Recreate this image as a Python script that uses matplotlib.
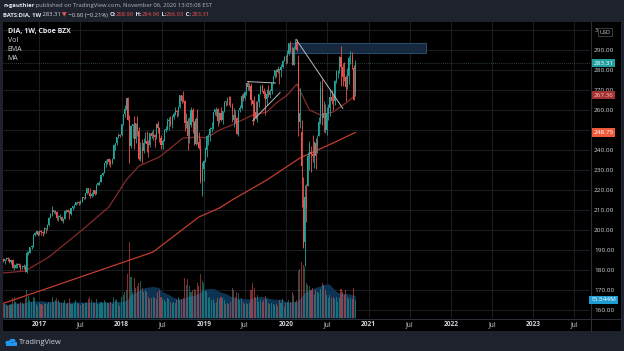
import matplotlib
matplotlib.use("Agg")
import matplotlib.pyplot as plt
import matplotlib.dates as mdates
import matplotlib.transforms as mtransforms
from matplotlib.patches import Rectangle, Circle
import numpy as np
import pandas as pd

plt.rcParams['font.family'] = ['Open Sans', 'DejaVu Sans']

W, H, DPI = 624, 351, 100

# ---------------- data (weekly DIA bars) ----------------
first_week = "2016-07-25"
opens = [185.7,184.3,185.4,185.8,185.5,183.9,184.9,180.9,181.2,182.6,183.1,182.4,181.4,181.5,181.6,178.9,188.5,188.7,191.5,191.7,197.6,198.4,199.3,
         197.9,199.6,198.9,198.3,200.9,200.7,202.7,206.2,208.2,210.0,209.0,209.1,206.0,206.6,206.6,204.5,205.5,209.4,210.1,209.0,208.0,210.8,212.1,212.7,213.8,213.9,213.5,214.1,216.4,215.8,218.3,220.9,218.6,216.8,218.1,219.9,218.0,222.7,223.5,224.1,227.7,228.7,233.3,234.3,235.4,234.2,233.6,235.6,242.3,243.3,246.5,247.5,
         247.6,253.0,258.0,260.7,266.2,255.2,241.9,252.2,253.1,245.4,253.4,249.5,235.3,241.0,239.3,243.6,244.6,243.1,242.6,248.3,247.2,247.5,246.4,253.2,250.9,245.8,242.7,244.6,250.2,250.6,254.5,254.6,253.1,256.7,257.9,259.6,259.2,261.5,267.4,264.6,264.5,253.4,254.4,246.9,252.7,259.9,254.1,242.9,255.4,243.9,241.0,224.5,
         230.6,234.3,240.0,247.1,247.4,250.6,251.1,258.8,260.3,260.3,254.5,258.5,255.0,259.3,264.2,264.1,265.6,265.4,261.9,254.9,257.6,255.9,248.2,259.8,260.9,267.2,266.0,269.2,273.3,271.5,271.9,264.9,262.9,258.9,256.3,264.0,268.0,272.2,269.4,268.2,265.7,268.2,267.7,269.6,273.5,276.8,280.1,278.8,280.5,280.2,281.4,284.5,
         286.5,286.3,288.2,293.5,289.9,282.6,291.0,294.0,284.7,254.1,249.0,215.0,194.0,216.4,222.0,237.2,239.0,237.8,237.2,243.3,242.0,247.0,253.8,271.1,256.1,258.7,250.2,258.3,260.8,266.7,264.7,264.3,274.3,279.3,279.3,286.5,281.3,276.7,276.6,271.7,276.8,285.9,286.1,281.0,268.90]
highs = [185.9,185.6,186.6,186.3,186.0,185.2,185.5,183.1,183.6,183.4,183.5,183.0,182.6,182.8,182.3,189.3,189.5,191.7,192.4,197.8,199.2,199.7,199.6,
         200.0,199.9,199.3,201.3,201.0,202.8,206.4,208.3,212.0,210.2,210.0,209.6,207.5,208.0,206.8,206.2,210.0,210.1,210.3,210.1,210.9,212.1,213.2,214.2,214.6,214.5,214.8,216.4,216.7,218.4,220.9,221.2,221.2,218.9,220.1,220.0,222.8,224.0,224.3,227.8,228.8,233.4,234.8,235.5,235.9,235.4,235.8,243.0,243.5,246.7,248.3,248.1,
         253.0,258.1,262.7,266.2,266.6,257.3,252.6,253.2,257.0,253.6,257.0,251.5,243.8,245.6,246.0,249.0,249.7,245.0,248.4,249.3,250.6,248.1,253.4,254.4,251.4,247.5,245.6,250.6,252.0,256.2,256.3,256.8,257.3,258.8,261.6,260.2,261.9,267.6,267.6,269.5,265.2,258.7,255.9,256.5,261.3,260.8,254.6,256.5,260.6,249.2,246.0,233.8,
         235.1,241.6,247.4,248.0,251.4,254.0,259.0,260.6,261.7,261.2,259.0,261.5,259.6,264.3,264.4,266.4,266.8,266.8,263.6,261.1,259.8,256.4,260.0,262.3,268.2,268.3,269.6,273.4,274.3,273.5,273.4,265.0,267.0,264.3,264.4,268.1,272.6,273.0,270.9,269.5,270.4,272.4,270.3,273.7,276.9,280.2,280.6,282.1,280.7,282.8,284.8,287.0,
         287.5,290.0,293.6,294.5,291.6,292.0,295.7,295.6,287.6,271.1,255.0,226.3,222.7,222.9,239.0,244.5,242.0,247.6,244.4,246.0,247.7,256.6,274.5,275.5,264.3,262.8,261.3,263.0,270.6,270.0,267.6,275.0,280.0,280.2,286.8,292.0,283.6,284.1,277.5,280.8,286.9,289.6,288.9,282.7,284.96]
lows = [183.8,183.2,184.9,184.7,183.4,183.2,180.8,179.9,180.8,180.8,181.7,179.9,180.4,180.6,178.8,178.7,187.5,188.5,190.3,191.6,196.9,198.1,196.9,
        197.3,197.7,197.2,198.0,198.5,199.8,202.2,205.9,207.2,208.3,207.8,204.8,204.6,205.5,204.4,203.3,205.5,208.6,208.8,205.5,207.7,209.9,211.0,212.3,213.1,212.4,212.8,213.9,215.3,215.7,218.0,218.4,216.2,216.4,217.0,217.6,218.0,222.5,222.3,224.0,227.2,228.5,231.7,232.9,232.6,231.7,233.2,235.4,240.1,242.6,246.0,246.6,
        246.8,252.5,256.6,260.1,254.9,233.4,240.8,245.9,240.6,243.5,247.0,234.9,234.4,233.6,238.3,243.3,238.9,236.7,241.5,245.8,245.2,241.3,245.6,248.6,244.0,240.5,240.6,244.4,248.9,249.8,249.9,251.8,250.9,255.3,257.7,256.6,257.2,261.0,263.6,263.8,249.6,250.9,240.1,243.4,251.4,248.6,242.7,242.7,242.8,240.5,223.4,217.1,
        224.7,233.8,236.7,242.7,244.6,248.8,250.5,257.3,257.1,252.2,253.6,254.7,253.0,259.0,261.8,262.7,262.5,261.7,253.9,251.3,253.7,247.8,246.9,259.1,260.3,264.6,265.0,267.7,270.1,269.7,262.4,252.6,254.7,255.7,253.9,261.5,267.8,269.1,265.8,257.4,262.6,266.4,266.2,268.1,273.0,275.9,276.4,278.7,272.8,276.6,281.0,284.3,
        282.8,283.5,287.4,289.1,282.6,282.6,290.6,289.5,246.8,251.0,211.5,190.9,182.2,203.8,222.0,229.9,228.8,234.2,231.1,230.6,238.3,246.9,253.2,252.5,249.0,248.6,247.7,254.9,257.1,262.9,259.8,262.6,273.6,275.8,278.5,272.2,272.0,274.5,264.6,270.6,273.0,283.0,280.5,264.9,266.93]
closes = [184.3,185.4,185.8,185.5,183.9,184.9,180.9,181.2,182.6,183.1,182.4,181.4,181.5,181.6,178.9,188.5,188.7,191.5,191.7,197.6,198.4,199.3,197.6,
          199.6,198.9,198.3,200.9,200.7,202.7,206.2,208.2,210.0,209.0,209.1,206.0,206.6,206.6,204.5,205.5,209.4,210.1,209.0,208.0,210.8,212.1,212.7,213.8,213.9,213.5,214.1,216.4,215.8,218.3,220.9,218.6,216.8,218.1,219.9,218.0,222.7,223.5,224.1,227.7,228.7,233.3,234.3,235.4,234.2,233.6,235.6,242.3,243.3,246.5,247.5,247.2,
          253.0,258.0,260.7,266.2,255.2,241.9,252.2,253.1,245.4,253.4,249.5,235.3,241.0,239.3,243.6,244.6,243.1,242.6,248.3,247.2,247.5,246.4,253.2,250.9,245.8,242.7,244.6,250.2,250.6,254.5,254.6,253.1,256.7,257.9,259.6,259.2,261.5,267.4,264.6,264.5,253.4,254.4,246.9,252.7,259.9,254.1,242.9,255.4,243.9,241.0,224.5,230.6,
          234.3,240.0,247.1,247.4,250.6,251.1,258.8,260.3,260.3,254.5,258.5,255.0,259.3,264.2,264.1,265.6,265.4,265.1,259.4,257.6,255.9,248.2,259.8,260.9,267.2,266.0,269.2,273.3,271.5,271.9,264.9,262.9,258.9,256.3,264.0,268.0,272.2,269.4,268.2,265.7,268.2,267.7,269.6,273.5,276.8,280.1,278.8,280.5,280.2,281.4,284.5,286.5,
          286.3,288.2,293.5,289.9,282.6,291.0,294.0,289.9,254.1,258.6,231.9,191.7,216.4,210.5,237.2,242.4,237.8,237.2,243.3,236.9,244.7,253.8,271.1,256.1,258.7,250.2,258.3,260.8,266.7,264.7,264.3,274.3,279.3,279.3,286.5,281.3,276.7,276.6,271.7,276.8,285.9,286.1,283.4,265.0,283.31]
volumes_m = [13,12,11,10,11,12,17,18,14,12,12,14,13,12,17,24,19,15,14,18,17,12,10,
             13,12,11,13,12,12,14,13,18,14,15,17,15,13,13,13,15,12,13,17,12,12,13,15,13,12,11,13,12,13,14,16,18,15,14,13,16,12,12,14,13,15,14,13,13,14,12,18,15,16,13,10,
             18,20,22,24,38,65,35,22,34,26,27,30,32,26,22,24,22,18,16,17,18,17,16,22,24,18,16,15,14,17,16,14,13,14,13,15,18,15,16,17,34,28,33,27,22,24,25,24,30,27,38,32,
             30,24,22,17,18,15,16,13,14,17,16,18,17,15,12,13,12,14,26,24,18,22,21,15,17,14,12,13,12,13,24,30,26,18,20,14,15,14,15,19,16,13,12,13,12,11,12,10,15,13,16,9,
             13,14,15,14,22,20,14,15,40,42,48,45,44,30,28,27,24,26,20,24,22,21,25,30,28,24,20,17,20,17,18,16,18,14,17,25,22,20,24,18,16,17,16,26,15.544]

ema_dates = ["2016-07-25","2016-10-31","2017-02-13","2017-07-10","2017-11-06","2018-01-22","2018-03-19","2018-06-18",
             "2018-10-01","2018-12-10","2019-01-14","2019-03-11","2019-05-06","2019-08-05","2019-10-07","2019-11-18",
             "2020-01-06","2020-02-17","2020-03-16","2020-04-13","2020-06-01","2020-07-27","2020-09-28","2020-11-02"]
ema_values = [178.5,179.5,186.5,200.0,211.5,225.0,232.0,236.5,
              246.0,246.5,246.0,250.0,252.5,257.5,259.0,263.5,
              267.5,273.0,266.5,260.0,257.5,259.0,264.0,267.36]
ma_dates = ["2016-07-25","2017-01-16","2018-05-21","2018-12-10","2019-03-11","2019-05-06","2019-10-07","2020-03-02","2020-07-27","2020-11-02"]
ma_values = [163.3,170.0,189.0,206.5,211.0,215.0,225.0,236.0,243.5,248.75]

price_ticks = [160,170,180,190,200,210,220,230,240,250,260,270,280,290]
hidden_price_labels = [250]   # covered by the MA value tag in the reference
time_ticks = ["2017-01-01","2017-07-01","2018-01-01","2018-07-01","2019-01-01","2019-07-01","2020-01-01",
              "2020-07-01","2021-01-01","2021-07-01","2022-01-01","2022-07-01","2023-01-01","2023-07-01"]
time_labels = ["2017","Jul","2018","Jul","2019","Jul","2020","Jul","2021","Jul","2022","Jul","2023","Jul"]

# drawings (date, price)
zone = (("2020-01-18", 288.65), ("2021-09-12", 293.35))
trend_down = (("2020-02-14", 295.3), ("2020-09-08", 260.8))
flat_line = (("2019-07-14", 274.2), ("2019-11-14", 273.5))
rise_line = (("2019-08-06", 254.7), ("2019-12-05", 268.7))

# ---------------- colours ----------------
OUTER = "#1e222d"
UP = "#26a69a"
DOWN = "#ef5350"
GRID = "#1a1c22"
TXT = "#d1d4dc"

def fx(px):
    return px / W

def fy(py):
    return 1 - py / H

fig = plt.figure(figsize=(W / DPI, H / DPI), dpi=DPI)
fig.patch.set_facecolor(OUTER)
fig.add_artist(Rectangle((fx(3), fy(331)), fx(621) - fx(3), fy(22) - fy(331),
                         transform=fig.transFigure, facecolor="black", edgecolor="none", zorder=0))

L, R, T, B = 3, 590, 22, 318
rect = [fx(L), fy(B), fx(R) - fx(L), fy(T) - fy(B)]
vax = fig.add_axes(rect)
ax = fig.add_axes(rect, sharex=vax)
vax.set_zorder(1)
ax.set_zorder(2)
vax.set_facecolor("black")
ax.set_facecolor("none")
for a in (ax, vax):
    a.set_xticks([])
    a.set_yticks([])
    for s in a.spines.values():
        s.set_visible(False)

dates = pd.date_range(first_week, periods=len(closes), freq="W-MON")
dn = mdates.date2num(dates)
o = np.array(opens); h = np.array(highs); l = np.array(lows); c = np.array(closes)
v = np.array(volumes_m)

ax.set_xlim(mdates.date2num(pd.Timestamp("2016-07-24 12:00")), mdates.date2num(pd.Timestamp("2023-09-09")))
ax.set_ylim(156, 304)
vax.set_ylim(0, 253)

# grid (drawn in the volume layer so it sits behind everything)
gtr = mtransforms.blended_transform_factory(vax.transAxes, ax.transData)
for p in price_ticks + [300]:
    vax.plot([0, 1], [p, p], transform=gtr, color=GRID, lw=0.8, zorder=0)
tt = mdates.date2num(pd.to_datetime(time_ticks))
for t in tt:
    vax.axvline(t, color=GRID, lw=0.8, zorder=0)

# volume
vol_ma = pd.Series(v).rolling(20, min_periods=1).mean().values
vax.fill_between(dn, 0, vol_ma, color="#0c3452", lw=0, zorder=1)
up = c >= o
vcol = np.where(up, UP, DOWN)
vax.bar(dn, v, width=4.6, color=vcol, alpha=0.55, lw=0, zorder=2)

# EMA / MA
ax.plot(mdates.date2num(pd.to_datetime(ema_dates)), ema_values, color="#862a2a", lw=0.9, zorder=2)
ax.plot(mdates.date2num(pd.to_datetime(ma_dates)), ma_values, color="#c23c2e", lw=0.9, zorder=2)

# candles
ax.vlines(dn, l, h, colors=vcol, lw=0.6, zorder=3)
body_lo = np.minimum(o, c)
body_h = np.maximum(np.abs(c - o), 0.3)
ax.bar(dn, body_h, bottom=body_lo, width=4.6, color=vcol, lw=0, zorder=4)

# last price line
ax.axhline(c[-1], color="#4d6b6b", lw=0.6, ls=(0, (1, 1.5)), alpha=0.8, zorder=1)

# drawings
z0 = mdates.date2num(pd.Timestamp(zone[0][0])); z1 = mdates.date2num(pd.Timestamp(zone[1][0]))
ax.add_patch(Rectangle((z0, zone[0][1]), z1 - z0, zone[1][1] - zone[0][1],
                       facecolor="#15283d", edgecolor="#2d5578", lw=0.6, zorder=1.5))
for seg in (trend_down, flat_line, rise_line):
    xs = mdates.date2num(pd.to_datetime([seg[0][0], seg[1][0]]))
    ax.plot(xs, [seg[0][1], seg[1][1]], color="#b8bbc2", lw=0.7, zorder=5)

# ---------------- axes separators ----------------
fig.add_artist(plt.Line2D([fx(3), fx(621)], [fy(318.5), fy(318.5)], transform=fig.transFigure, color="#2a2e39", lw=0.8, zorder=5))
fig.add_artist(plt.Line2D([fx(590.5), fx(590.5)], [fy(22), fy(331)], transform=fig.transFigure, color="#2a2e39", lw=0.8, zorder=5))

# price axis labels
ytr = mtransforms.blended_transform_factory(fig.transFigure, ax.transData)
for p in price_ticks:
    if p in hidden_price_labels:
        continue
    fig.text(fx(594), p, f"{p:.2f}", transform=ytr, fontsize=4.6, color=TXT, va="center", ha="left", zorder=6)

# time axis labels
xtr = mtransforms.blended_transform_factory(ax.transData, fig.transFigure)
for t, lab in zip(tt, time_labels):
    fig.text(t, fy(325), lab, transform=xtr, fontsize=4.8, color=TXT, ha="center", va="center",
             fontweight="bold" if lab != "Jul" else "normal", zorder=6)

# value labels on price axis
def tag(value, text, face, tcolor="white", transform=ytr):
    fig.text(fx(603.5), value, text, transform=transform, fontsize=4.6, color=tcolor, ha="center", va="center",
             zorder=8, bbox=dict(boxstyle="square,pad=0.25", facecolor=face, edgecolor="none"))

tag(c[-1], f"{c[-1]:.2f}", "#22a0a0")
tag(ema_values[-1], f"{ema_values[-1]:.2f}", "#a33131", "#f3c9c9")
tag(ma_values[-1], f"{ma_values[-1]:.2f}", "#ee5a3c")
vtr = mtransforms.blended_transform_factory(fig.transFigure, vax.transData)
tag(v[-1], f"{v[-1]:.3f}M", "#1e9bd0", transform=vtr)

fig.text(fx(596), fy(30.5), "3", fontsize=4.0, color=TXT, ha="center", va="center", zorder=6)
fig.text(fx(605), fy(32), "USD", fontsize=4.0, color=TXT, ha="center", va="center", zorder=6,
         bbox=dict(boxstyle="square,pad=0.3", facecolor="black", edgecolor="#50535e", lw=0.5))

# ---------------- legend in pane ----------------
fig.text(fx(7.5), fy(31.5), "DIA, 1W, Cboe BZX", fontsize=5.0, color="#e6e8ee", fontweight="bold", va="center", ha="left", zorder=6)
for yy, name in ((40.5, "Vol"), (49.5, "EMA"), (58, "MA")):
    fig.text(fx(7.5), fy(yy), name, fontsize=5.0, color=TXT, va="center", ha="left", zorder=6)

# ---------------- header ----------------
renderer = fig.canvas.get_renderer()

def segments(x_px, y_px, parts, size):
    x = x_px
    for text, color, weight in parts:
        t = fig.text(fx(x), fy(y_px), text, color=color, fontsize=size, fontweight=weight, va="center", ha="left")
        x += t.get_window_extent(renderer=renderer).width

segments(3, 6, [("n-gauthier", "#e6e8ee", "bold"),
                (" published on TradingView.com, November 06, 2020 13:05:08 EST", "#b2b5be", "normal")], 4.2)
segments(3, 15, [("BATS:DIA, 1W", "#e6e8ee", "bold"), (" 283.31 ", "#d1d4dc", "normal"), ("▼", DOWN, "normal"),
                 (" −0.60 (−0.21%) ", "#d1d4dc", "normal"),
                 ("O:", "#e6e8ee", "bold"), ("268.90", DOWN, "normal"),
                 (" H:", "#e6e8ee", "bold"), ("284.96", DOWN, "normal"),
                 (" L:", "#e6e8ee", "bold"), ("266.93", DOWN, "normal"),
                 (" C:", "#e6e8ee", "bold"), ("283.31", DOWN, "normal")], 4.2)

# ---------------- footer ----------------
for cx, cy, r in ((8.5, 342.5, 3.2), (12.5, 340.5, 3.0), (15.0, 343.0, 2.2)):
    fig.add_artist(Circle((fx(cx), fy(cy)), r / W, transform=fig.transFigure, facecolor="#2196f3", edgecolor="none", zorder=5))
fig.add_artist(Rectangle((fx(6), fy(345.5)), fx(17) - fx(6), fy(343) - fy(345.5), transform=fig.transFigure,
                         facecolor="#2196f3", edgecolor="none", zorder=5))
fig.text(fx(19), fy(342), "TradingView", fontsize=5.4, color="#d1d4dc", va="center", ha="left")

fig.savefig("out.png", dpi=DPI, facecolor=fig.get_facecolor())
